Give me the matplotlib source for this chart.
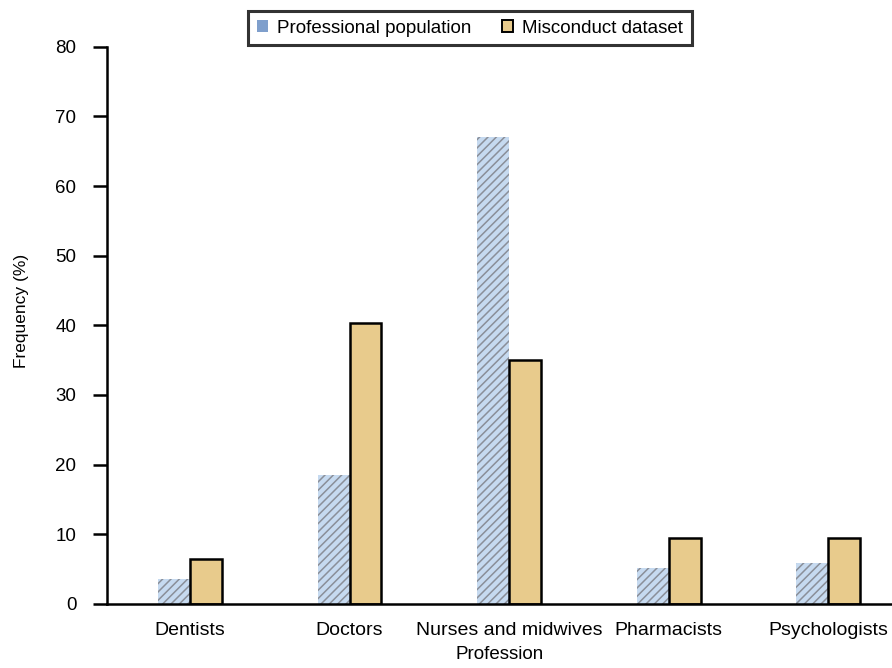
import numpy as np
import matplotlib.pyplot as plt
from matplotlib.patches import Patch

plt.rcParams["font.family"] = ["Liberation Sans", "DejaVu Sans"]
plt.rcParams["hatch.linewidth"] = 1.1

professions = ["Dentists", "Doctors", "Nurses and midwives", "Pharmacists", "Psychologists"]
population = [3.6, 18.5, 67.0, 5.2, 5.8]
misconduct = [6.5, 40.3, 35.0, 9.5, 9.4]
yticks = [0, 10, 20, 30, 40, 50, 60, 70, 80]

blue = "#c6daf0"
tan = "#e8cb8c"

fig = plt.figure(figsize=(8.92, 6.68), dpi=100)
ax = fig.add_axes([0.12, 0.096, 0.88, 0.834])

x = np.arange(len(professions))
w = 0.2
ax.bar(x - w / 2, population, w, color=blue, edgecolor="#8a8f99",
       hatch="////", linewidth=0)
ax.bar(x + w / 2, misconduct, w, color=tan, edgecolor="black", linewidth=1.8)

ax.set_xlim(-0.52, 4.4)
ax.set_ylim(0, 80)
ax.set_yticks(yticks)
ax.set_xticks(x)
ax.set_xticklabels(professions)
ax.tick_params(axis="x", length=0, labelsize=14, pad=13)
ax.tick_params(axis="y", length=10, width=1.8, labelsize=13.5, pad=12)
for s in ["top", "right"]:
    ax.spines[s].set_visible(False)
for s in ["left", "bottom"]:
    ax.spines[s].set_linewidth(1.8)

ax.set_ylabel("Frequency (%)", fontsize=12.5)
ax.yaxis.set_label_coords(-0.1, 0.526)
ax.set_xlabel("Profession", fontsize=13.5, labelpad=5)

handles = [
    Patch(facecolor="#7f9fcc", edgecolor="none", label="Professional population"),
    Patch(facecolor=tan, edgecolor="black", linewidth=1.4, label="Misconduct dataset"),
]
leg = fig.legend(handles=handles, loc="center", bbox_to_anchor=(0.527, 0.958),
                 ncol=2, fontsize=13.5, frameon=True, fancybox=False,
                 handlelength=0.6, handleheight=0.6, handletextpad=0.5,
                 columnspacing=1.6, borderpad=0.45, borderaxespad=0.3)
leg.get_frame().set_edgecolor("black")
leg.get_frame().set_linewidth(2.2)

fig.savefig("out.png", dpi=100)
